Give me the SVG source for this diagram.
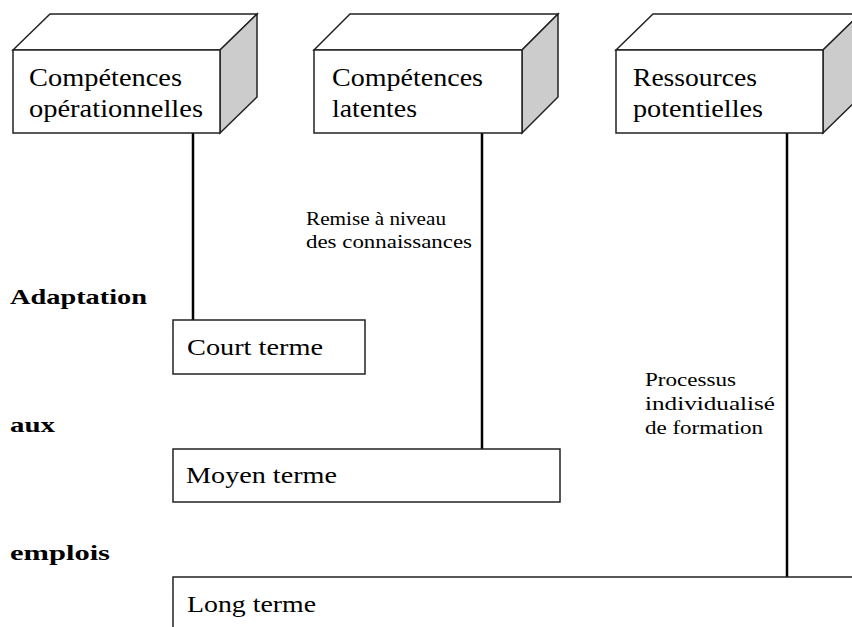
<svg xmlns="http://www.w3.org/2000/svg" width="852" height="627" viewBox="0 0 852 627">
<style>
.face{fill:#ffffff;stroke:#222;stroke-width:1.5;stroke-linejoin:miter}
.side{fill:#cccccc;stroke:#222;stroke-width:1.5}
.box{fill:#ffffff;stroke:#222;stroke-width:1.5}
.conn{stroke:#000;stroke-width:2.5;fill:none}
.t{font-family:"Liberation Serif","Times New Roman",serif;fill:#000}
.big{font-size:25px}
.mid{font-size:24px}
.small{font-size:18px}
.lab{font-size:22px;font-weight:bold}
</style>
<rect width="852" height="627" fill="#ffffff"/>
<g id="connectors">
<line class="conn" x1="193" y1="133" x2="193" y2="320"/>
<line class="conn" x1="482" y1="133" x2="482" y2="449"/>
<line class="conn" x1="787" y1="133" x2="787" y2="577"/>
</g>
<g id="node-competences-operationnelles">
<polygon class="face" points="13,50 50,14 257,14 220,50"/>
<polygon class="side" points="220,50 257,14 257,97 220,133"/>
<rect class="face" x="13" y="50" width="207" height="83"/>
<text class="t big" x="29" y="86" textLength="153" lengthAdjust="spacingAndGlyphs">Compétences</text>
<text class="t big" x="29" y="117" textLength="174" lengthAdjust="spacingAndGlyphs">opérationnelles</text>
</g>
<g id="node-competences-latentes">
<polygon class="face" points="314,50 350,14 558,14 522,50"/>
<polygon class="side" points="522,50 558,14 558,97 522,133"/>
<rect class="face" x="314" y="50" width="208" height="83"/>
<text class="t big" x="332" y="86" textLength="151" lengthAdjust="spacingAndGlyphs">Compétences</text>
<text class="t big" x="332" y="117" textLength="85" lengthAdjust="spacingAndGlyphs">latentes</text>
</g>
<g id="node-ressources-potentielles">
<polygon class="face" points="616,50 653,14 860,14 823,50"/>
<polygon class="side" points="823,50 860,14 860,97 823,133"/>
<rect class="face" x="616" y="50" width="207" height="83"/>
<text class="t big" x="633" y="86" textLength="124" lengthAdjust="spacingAndGlyphs">Ressources</text>
<text class="t big" x="633" y="117" textLength="130" lengthAdjust="spacingAndGlyphs">potentielles</text>
</g>
<g id="node-court-terme">
<rect class="box" x="173" y="320" width="192" height="54"/>
<text class="t mid" x="187" y="355" textLength="136" lengthAdjust="spacingAndGlyphs">Court terme</text>
</g>
<g id="node-moyen-terme">
<rect class="box" x="173" y="449" width="387" height="53"/>
<text class="t mid" x="186" y="483" textLength="151" lengthAdjust="spacingAndGlyphs">Moyen terme</text>
</g>
<g id="node-long-terme">
<rect class="box" x="173" y="577" width="720" height="100"/>
<text class="t mid" x="187" y="612" textLength="129" lengthAdjust="spacingAndGlyphs">Long terme</text>
</g>
<g id="labels">
<text class="t small" x="306" y="225" textLength="140" lengthAdjust="spacingAndGlyphs">Remise à niveau</text>
<text class="t small" x="306" y="248" textLength="166" lengthAdjust="spacingAndGlyphs">des connaissances</text>
<text class="t small" x="645" y="386" textLength="91" lengthAdjust="spacingAndGlyphs">Processus</text>
<text class="t small" x="645" y="410" textLength="130" lengthAdjust="spacingAndGlyphs">individualisé</text>
<text class="t small" x="645" y="434" textLength="118" lengthAdjust="spacingAndGlyphs">de formation</text>
<text class="t lab" x="10" y="304" textLength="137" lengthAdjust="spacingAndGlyphs">Adaptation</text>
<text class="t lab" x="10" y="432" textLength="45" lengthAdjust="spacingAndGlyphs">aux</text>
<text class="t lab" x="10" y="560" textLength="100" lengthAdjust="spacingAndGlyphs">emplois</text>
</g>
</svg>
